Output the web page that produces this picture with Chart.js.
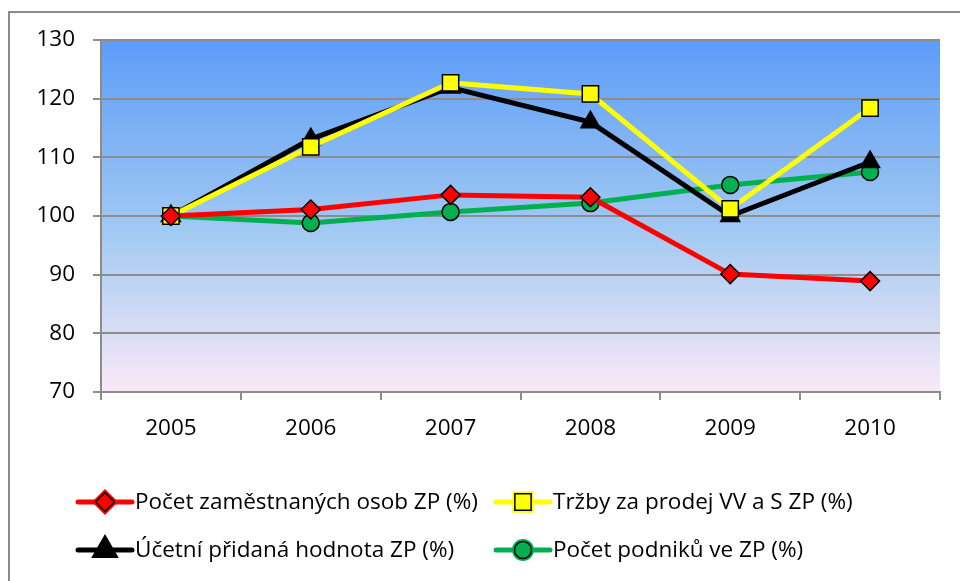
<!DOCTYPE html>
<html>
<head>
<meta charset="utf-8">
<script src="https://cdn.jsdelivr.net/npm/chart.js@4"></script>
<style>
  html, body { margin: 0; padding: 0; background: #fff; }
  #wrap { width: 960px; height: 581px; }
</style>
</head>
<body>
<div id="wrap"><canvas id="myChart" width="960" height="581"></canvas></div>
<script>
const years = ['2005', '2006', '2007', '2008', '2009', '2010'];
const zamestnanci = [100, 101.1, 103.6, 103.2, 90.1, 88.9];
const trzby = [100, 111.8, 122.7, 120.8, 101.2, 118.4];
const pridanaHodnota = [100, 113.1, 121.9, 116.0, 100, 109.2];
const podniky = [100, 98.8, 100.7, 102.2, 105.3, 107.5];
const yTicks = [70, 80, 90, 100, 110, 120, 130];

const labels = ['Počet zaměstnaných osob ZP (%)', 'Tržby za prodej VV a S ZP (%)', 'Účetní přidaná hodnota ZP (%)', 'Počet podniků ve ZP (%)'];
const lineColors = ['#ff0000', '#ffff00', '#000000', '#00b050'];
const markerColors = ['#ff0000', '#ffff00', '#000000', '#00b050'];
const markers = ['rectRot', 'rect', 'triangle', 'circle'];
const markerSizes = [9.5, 11.5, 11, 8.5];

const fontFam = '"Open Sans", sans-serif';
const fontSize = 22.5;

function makeDataset(i, data) {
  return {
    label: labels[i],
    data: data,
    borderColor: lineColors[i],
    backgroundColor: markerColors[i],
    borderWidth: 5,
    pointStyle: markers[i],
    pointRadius: markerSizes[i],
    pointBorderColor: '#000',
    pointBorderWidth: 1.5,
    pointHoverRadius: markerSizes[i],
    tension: 0
  };
}

// plot background + outer frame + legend
const decor = {
  id: 'decor',
  beforeDraw(chart) {
    const {ctx, chartArea: a} = chart;
    ctx.save();
    ctx.strokeStyle = '#8c8c8c';
    ctx.lineWidth = 2;
    ctx.strokeRect(9, 12, 960, 600);
    const g = ctx.createLinearGradient(0, a.top, 0, a.bottom);
    g.addColorStop(0, '#5c9cf9');
    g.addColorStop(0.55, '#a3caf2');
    g.addColorStop(1, '#fae9f8');
    ctx.fillStyle = g;
    ctx.fillRect(a.left, a.top, a.right - a.left, a.bottom - a.top);
    ctx.restore();
  },
  afterDraw(chart) {
    const ctx = chart.ctx;
    const pos = [[78, 502], [496, 502], [78, 550], [496, 550]];
    ctx.save();
    chart.data.datasets.forEach((ds, i) => {
      const [x, y] = pos[i];
      ctx.strokeStyle = ds.borderColor;
      ctx.lineWidth = 5;
      ctx.lineCap = 'round';
      ctx.beginPath();
      ctx.moveTo(x, y);
      ctx.lineTo(x + 54, y);
      ctx.stroke();
      Chart.helpers.drawPoint(ctx, {
        pointStyle: ds.pointStyle,
        radius: ds.pointRadius,
        borderWidth: 1.5
      }, x + 27, y);
      ctx.fillStyle = ds.backgroundColor;
      ctx.strokeStyle = '#000';
      ctx.lineWidth = 1.5;
      ctx.fill();
      ctx.stroke();
      ctx.fillStyle = '#000';
      ctx.font = fontSize + 'px ' + fontFam;
      ctx.textBaseline = 'middle';
      ctx.fillText(ds.label, x + 57, y + 1);
    });
    ctx.restore();
  }
};

const config = {
  type: 'line',
  data: {
    labels: years,
    datasets: [
      makeDataset(0, zamestnanci),
      makeDataset(1, trzby),
      makeDataset(2, pridanaHodnota),
      makeDataset(3, podniky)
    ]
  },
  options: {
    responsive: false,
    animation: false,
    layout: { padding: { left: 0, top: 40, right: 20, bottom: 139 } },
    plugins: {
      legend: { display: false },
      tooltip: { enabled: false }
    },
    scales: {
      x: {
        offset: true,
        grid: {
          offset: true,
          drawOnChartArea: false,
          drawTicks: true,
          tickLength: 8,
          color: '#8c8c8c',
          lineWidth: 2
        },
        border: { color: '#8c8c8c', width: 2 },
        ticks: { color: '#000', font: { family: fontFam, size: fontSize }, padding: 15, maxRotation: 0 },
        afterFit(scale) { scale.height = 50; }
      },
      y: {
        min: 70,
        max: 130,
        afterBuildTicks(scale) { scale.ticks = yTicks.map(v => ({ value: v })); },
        grid: {
          color: '#8c8c8c',
          lineWidth: 2,
          drawTicks: true,
          tickLength: 8
        },
        border: { color: '#8c8c8c', width: 2 },
        ticks: { color: '#000', font: { family: fontFam, size: fontSize }, padding: 18 },
        afterFit(scale) { scale.width = 101; }
      }
    }
  },
  plugins: [decor]
};

const ctx = document.getElementById('myChart').getContext('2d');
new Chart(ctx, config);
</script>
</body>
</html>
